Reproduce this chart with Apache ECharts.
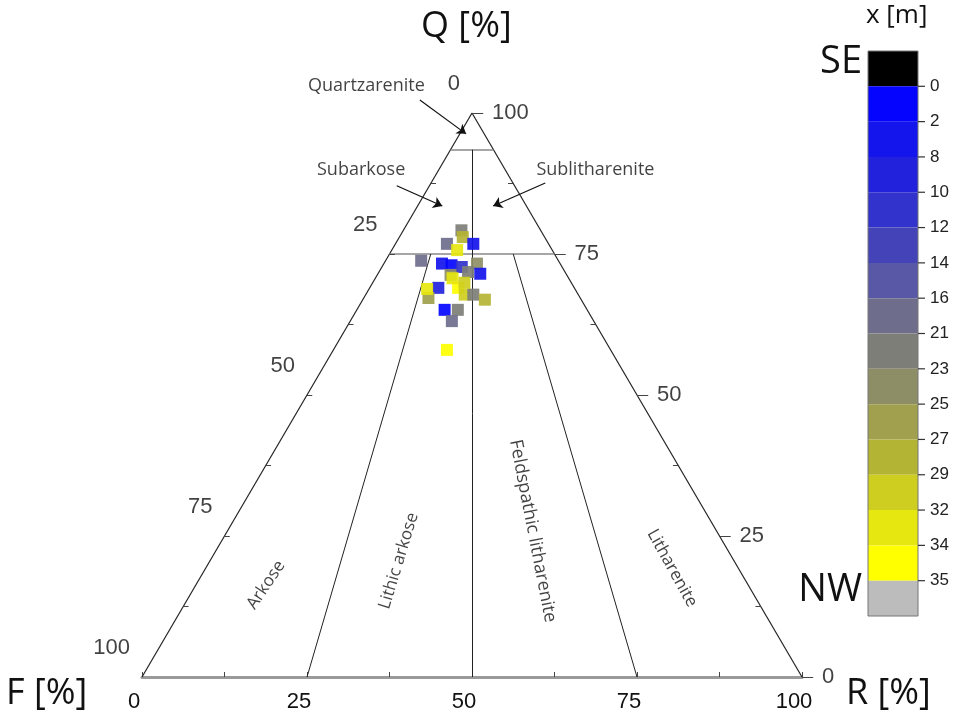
<!DOCTYPE html>
<html>
<head>
<meta charset="utf-8">
<script src="https://cdn.jsdelivr.net/npm/echarts@6/dist/echarts.min.js"></script>
<style>
  html, body { margin: 0; padding: 0; background: #fff; }
  #main { width: 966px; height: 726px; }
</style>
</head>
<body>
<div id="main"></div>
<script>
// * sample compositions, %
var qPct = [79.2, 78.0, 76.8, 76.8, 75.7, 73.8, 73.3, 73.0, 72.7, 73.3, 71.5, 71.3, 71.8, 69.0, 69.0, 67.8, 67.8, 66.9, 67.2, 68.8, 65.1, 65.1, 63.1, 58.0, 70.7, 69.9];
var rPct = [8.8, 9.6, 7.8, 11.8, 9.9, 5.4, 8.8, 10.4, 12.1, 14.1, 15.5, 11.1, 13.5, 10.4, 13.4, 15.0, 16.3, 18.5, 9.8, 8.8, 13.3, 15.3, 15.4, 17.2, 11.7, 13.9];
var fPct = [12.0, 12.4, 15.4, 11.4, 14.4, 20.8, 17.9, 16.6, 15.2, 12.6, 13.0, 17.6, 14.7, 20.6, 17.6, 17.2, 15.9, 14.6, 23.0, 22.4, 21.6, 19.6, 21.5, 24.8, 17.6, 16.2];
// * sample position along the section (m)
var posM = [21, 27, 16, 2, 32, 16, 2, 0, 10, 23, 2, 23, 21, 8, 34, 29, 21, 27, 25, 32, 0, 21, 16, 34, 32, 29];

// * colour scale
var colorTicks = ['0', '2', '8', '10', '12', '14', '16', '21', '23', '25', '27', '29', '32', '34', '35'];
var bandColors = ['#0505ff', '#1414ec', '#2222dc', '#3232cc', '#4444b8', '#5858a6', '#6e6e8c', '#7e7e78', '#8e8e66', '#a0a04e', '#b4b434', '#cece20', '#e6e610', '#ffff00'];
var seColor = '#000000';
var nwColor = '#bcbcbc';

// * triangle axis ticks
var axisTicks = [0, 25, 50, 75, 100];
var minorTicks = [12.5, 37.5, 62.5, 87.5];

// * classification boundaries (Q %, R/(F+R))
var quartzLimit = 93.5;
var subLimit = 75;
var ratioLines = [0.25, 0.75];

// ternary -> plot coordinates (x = R + Q/2, y = Q)
function tern (q, r) {
  return [r + q / 2, q];
}

var tickLen = 0.8;   // inner ticks, in plot units
var majLen = 1.7;    // outer ticks on the Q side

/******************** lines ****************************/
var frameSegs = [
  [tern(0, 0), tern(100, 0)],
  [tern(100, 0), tern(0, 100)]
];
var classSegs = [
  [tern(subLimit, 0), tern(subLimit, 100 - subLimit)],
  [tern(quartzLimit, 0), tern(quartzLimit, 100 - quartzLimit)]
];
var innerSegs = [
  [[50, quartzLimit], [50, 0]]
];
ratioLines.forEach(function (k) {
  innerSegs.push([tern(subLimit, (100 - subLimit) * k), tern(0, 100 * k)]);
});

var tickSegs = [];
axisTicks.concat(minorTicks).forEach(function (q) {
  if (q === 0 || q === 100) return;
  var p = tern(q, 0);
  tickSegs.push([p, [p[0] + tickLen, p[1]]]);
});
minorTicks.forEach(function (q) {
  var p = tern(q, 100 - q);
  tickSegs.push([p, [p[0] - tickLen, p[1]]]);
});
axisTicks.forEach(function (q) {
  var p = tern(q, 100 - q);
  tickSegs.push([p, [p[0] + majLen, p[1]]]);
});

function toLines (segs) {
  return segs.map(function (s) { return { coords: s }; });
}

var arrows = [
  [[42.1, 102.3], [49.1, 96.3]],
  [[38.6, 87.1], [45.5, 83.5]],
  [[61.1, 87.6], [53.2, 83.5]]
];

/******************** points ****************************/
var points = qPct.map(function (q, i) {
  var tot = q + fPct[i] + rPct[i];
  var idx = colorTicks.indexOf(String(posM[i]));
  return {
    value: tern(q * 100 / tot, rPct[i] * 100 / tot),
    itemStyle: { color: bandColors[Math.min(idx, bandColors.length - 1)] }
  };
});

var numFont = { fontFamily: 'Liberation Sans', fontSize: 22, color: '#111' };

var leftLabels = axisTicks.map(function (f) {
  return {
    value: tern(100 - f, 0),
    label: Object.assign({ show: true, formatter: String(f), position: 'inside', align: 'right', verticalAlign: 'middle', offset: [-12, -29] }, numFont)
  };
});
var rightLabels = axisTicks.map(function (q) {
  return {
    value: tern(q, 100 - q),
    label: Object.assign({ show: true, formatter: String(q), position: 'inside', align: 'left', verticalAlign: 'middle', offset: [20, 0] }, numFont)
  };
});

var classLabels = [
  { name: 'Quartzarenite', value: [34.0, 104.8], rotate: 0, size: 18 },
  { name: 'Subarkose', value: [33.2, 89.9], rotate: 0, size: 18 },
  { name: 'Sublitharenite', value: [68.7, 89.9], rotate: 0, size: 18 },
  { name: 'Arkose', value: [18.8, 16.3], rotate: 56, size: 17 },
  { name: 'Lithic arkose', value: [38.9, 20.6], rotate: 73, size: 17 },
  { name: 'Feldspathic litharenite', value: [59.2, 25.9], rotate: -79, size: 18 },
  { name: 'Litharenite', value: [80.3, 19.3], rotate: -61, size: 17 }
].map(function (d) {
  return {
    value: d.value,
    label: {
      show: true, formatter: d.name, position: 'inside', rotate: d.rotate, align: 'center', verticalAlign: 'middle',
      fontFamily: 'Open Sans', fontSize: d.size, color: '#111'
    }
  };
});

/******************** colour bar ****************************/
var barCells = [[-1, 0, seColor]];
bandColors.forEach(function (c, i) { barCells.push([i, i + 1, c]); });
barCells.push([bandColors.length, bandColors.length + 1, nwColor]);

function cellRect (api) {
  var p0 = api.coord([0, api.value(0)]);
  var p1 = api.coord([1, api.value(1)]);
  return { x: p0[0], y: Math.min(p0[1], p1[1]), width: p1[0] - p0[0], height: Math.abs(p1[1] - p0[1]) };
}
function renderCell (params, api) {
  return { type: 'rect', shape: cellRect(api), style: { fill: barCells[params.dataIndex][2] } };
}
function renderFrame (params, api) {
  return { type: 'rect', shape: cellRect(api), style: { fill: 'none', stroke: '#777', lineWidth: 1 } };
}
function renderTick (params, api) {
  var p = api.coord([1, api.value(0)]);
  return { type: 'line', shape: { x1: p[0], y1: p[1], x2: p[0] + 7, y2: p[1] }, style: { stroke: '#333', lineWidth: 1.2 } };
}

var tickIdx = colorTicks.map(function (t, i) { return i; });

var titleFont = { fontFamily: 'Open Sans', fill: '#111' };

var option = {
  backgroundColor: '#fff',
  animation: false,
  grid: [
    { left: 142, top: 113, width: 660, height: 564 },
    { left: 868, top: 51, width: 50, height: 565 }
  ],
  xAxis: [
    {
      type: 'value', min: 0, max: 100, interval: 12.5, gridIndex: 0,
      axisLine: { show: true, lineStyle: { color: '#9a9a9a', width: 3 } },
      axisTick: { show: true, inside: true, length: 5, lineStyle: { color: '#444', width: 1 } },
      axisLabel: {
        show: true, margin: 14, padding: [0, 16, 0, 0],
        fontFamily: 'Liberation Sans', fontSize: 22, color: '#111',
        formatter: function (v) { return v % 25 === 0 ? String(v) : ''; }
      },
      splitLine: { show: false }
    },
    { type: 'value', min: 0, max: 1, gridIndex: 1, show: false }
  ],
  yAxis: [
    { type: 'value', min: 0, max: 100, gridIndex: 0, show: false },
    {
      type: 'value', min: -1, max: 15, interval: 1, inverse: true, gridIndex: 1, position: 'right',
      axisLine: { show: false },
      axisTick: { show: false },
      axisLabel: {
        show: true, margin: 12, customValues: tickIdx,
        fontFamily: 'Liberation Sans', fontSize: 17, color: '#222',
        formatter: function (v) { return colorTicks[v] !== undefined ? colorTicks[v] : ''; }
      },
      splitLine: { show: false }
    }
  ],
  graphic: [
    { type: 'text', left: 421, top: 9, style: Object.assign({ text: 'Q [%]', fontSize: 36 }, titleFont) },
    { type: 'text', left: 6, top: 676, style: Object.assign({ text: 'F [%]', fontSize: 36 }, titleFont) },
    { type: 'text', left: 846, top: 676, style: Object.assign({ text: 'R [%]', fontSize: 36 }, titleFont) },
    { type: 'text', left: 866, top: 3, style: Object.assign({ text: 'x [m]', fontSize: 26 }, titleFont) },
    { type: 'text', right: 104, top: 43, style: Object.assign({ text: 'SE', fontSize: 38 }, titleFont) },
    { type: 'text', right: 104, top: 571, style: Object.assign({ text: 'NW', fontSize: 38 }, titleFont) }
  ],
  series: [
    {
      type: 'lines', coordinateSystem: 'cartesian2d', clip: false, silent: true,
      lineStyle: { color: '#222', width: 1.2, opacity: 1 },
      data: toLines(frameSegs)
    },
    {
      type: 'lines', coordinateSystem: 'cartesian2d', clip: false, silent: true,
      lineStyle: { color: '#888', width: 1.5, opacity: 1 },
      data: toLines(classSegs)
    },
    {
      type: 'lines', coordinateSystem: 'cartesian2d', clip: false, silent: true,
      lineStyle: { color: '#222', width: 1, opacity: 1 },
      data: toLines(innerSegs)
    },
    {
      type: 'lines', coordinateSystem: 'cartesian2d', clip: false, silent: true,
      lineStyle: { color: '#444', width: 1, opacity: 1 },
      data: toLines(tickSegs)
    },
    {
      type: 'lines', coordinateSystem: 'cartesian2d', clip: false, silent: true,
      symbol: ['none', 'arrow'], symbolSize: 9,
      lineStyle: { color: '#111', width: 1.2, opacity: 1 },
      data: toLines(arrows)
    },
    {
      type: 'scatter', clip: false, silent: true,
      symbol: 'rect', symbolSize: 12,
      itemStyle: { opacity: 0.92 },
      data: points
    },
    { type: 'scatter', clip: false, silent: true, symbolSize: 0, data: leftLabels },
    { type: 'scatter', clip: false, silent: true, symbolSize: 0, data: rightLabels },
    { type: 'scatter', clip: false, silent: true, symbolSize: 0, data: classLabels },
    {
      type: 'custom', xAxisIndex: 1, yAxisIndex: 1, silent: true, clip: false,
      renderItem: renderCell,
      data: barCells.map(function (c) { return [c[0], c[1]]; })
    },
    {
      type: 'custom', xAxisIndex: 1, yAxisIndex: 1, silent: true, clip: false,
      renderItem: renderFrame,
      data: [[-1, colorTicks.length]]
    },
    {
      type: 'custom', xAxisIndex: 1, yAxisIndex: 1, silent: true, clip: false,
      renderItem: renderTick,
      data: tickIdx.map(function (i) { return [i]; })
    }
  ]
};

var chart = echarts.init(document.getElementById('main'));
chart.setOption(option);
</script>
</body>
</html>
